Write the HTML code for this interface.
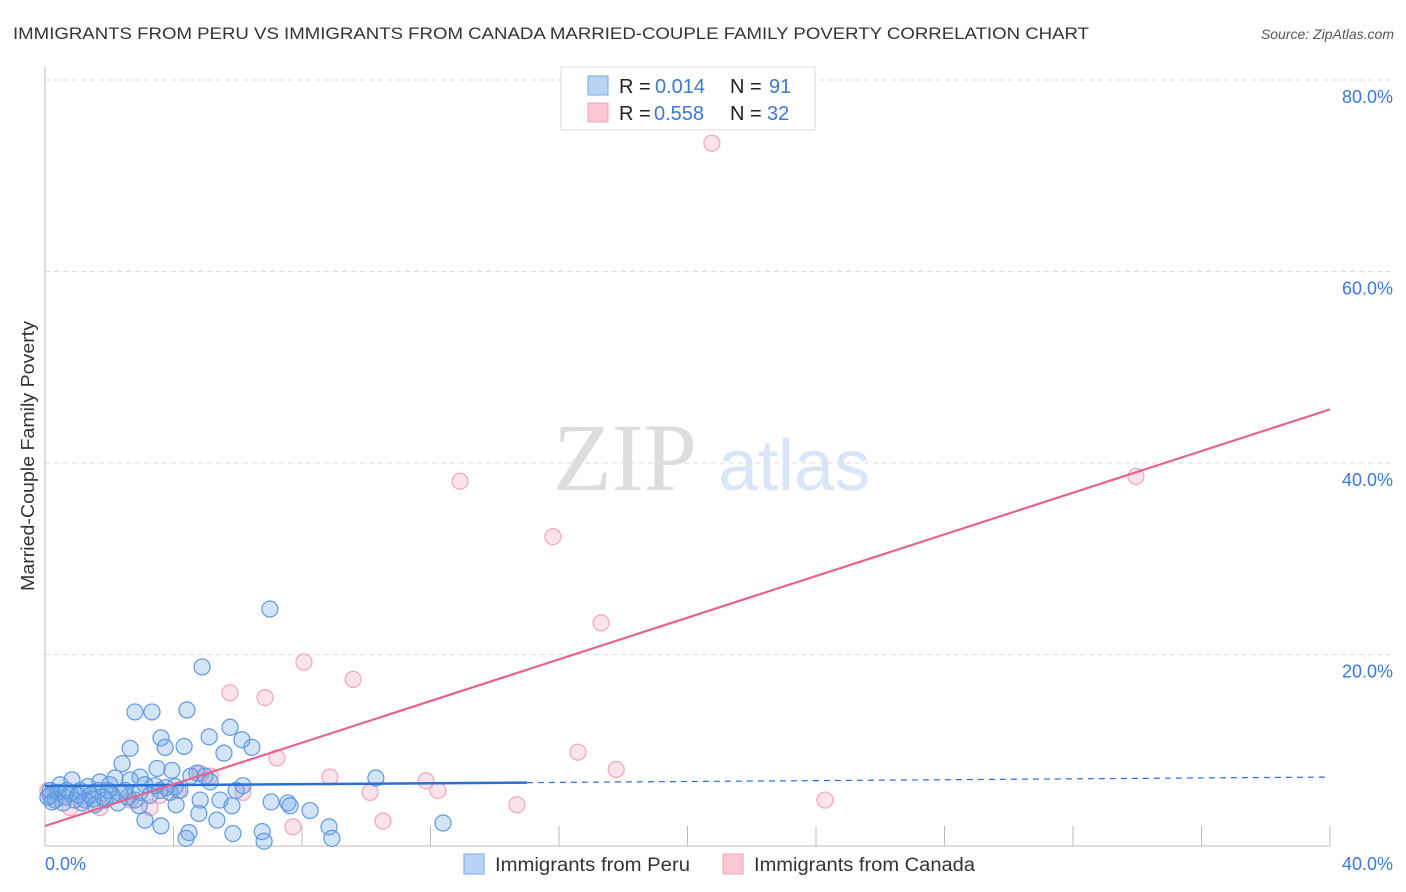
<!DOCTYPE html>
<html><head><meta charset="utf-8"><style>
body{margin:0;background:#fff;font-family:"Liberation Sans",sans-serif;}
svg{display:block}
</style></head><body>
<svg id="chart" width="1406" height="892" xmlns="http://www.w3.org/2000/svg">
<text x="13" y="39" font-size="17" fill="#333" textLength="1076" lengthAdjust="spacingAndGlyphs">IMMIGRANTS FROM PERU VS IMMIGRANTS FROM CANADA MARRIED-COUPLE FAMILY POVERTY CORRELATION CHART</text>
<text x="1394" y="39" font-size="14" fill="#555" font-style="italic" text-anchor="end">Source: ZipAtlas.com</text>
<text transform="translate(34,456) rotate(-90)" font-size="18" fill="#333" text-anchor="middle" textLength="270" lengthAdjust="spacingAndGlyphs">Married-Couple Family Poverty</text>
<g><text x="553" y="490" font-family="Liberation Serif,serif" font-size="96" fill="#ddd">ZIP</text><text x="718" y="490" font-size="72" fill="#d8e6f7">atlas</text></g>
<g id="grid"></g><g id="marks"></g>
<g>
<rect x="561" y="67" width="254" height="63" fill="#fff" stroke="#ddd"/>
<rect x="588" y="76" width="20" height="19" fill="#b9d3f5" stroke="#7aa8e6"/>
<rect x="588" y="103" width="20" height="19" fill="#fcc8d6" stroke="#f0a0b8"/>
<text x="619" y="93" font-size="20" fill="#222">R = <tspan x="655" fill="#3b78d8">0.014</tspan><tspan x="730">N = </tspan><tspan x="769" fill="#3b78d8">91</tspan></text>
<text x="619" y="120" font-size="20" fill="#222">R = <tspan x="654" fill="#3b78d8">0.558</tspan><tspan x="730">N = </tspan><tspan x="767" fill="#3b78d8">32</tspan></text>
</g>
<g>
<rect x="464" y="854" width="20" height="20" fill="#b9d3f5" stroke="#7aa8e6"/>
<text x="495" y="871" font-size="19" fill="#333" textLength="195" lengthAdjust="spacingAndGlyphs">Immigrants from Peru</text>
<rect x="723" y="854" width="20" height="20" fill="#fcc8d6" stroke="#f0a0b8"/>
<text x="754" y="871" font-size="19" fill="#333" textLength="221" lengthAdjust="spacingAndGlyphs">Immigrants from Canada</text>
</g>
</svg>
<script>
const yTicks=[20,40,60,80];
const yTickLabels=["20.0%","40.0%","60.0%","80.0%"];
const xTickLabels=["0.0%","40.0%"];
const peruX=[7.0,4.89,2.8,3.33,4.42,3.61,3.74,4.33,5.11,5.76,6.44,6.13,5.57,2.65,2.4,3.49,3.95,4.73,4.54,4.05,6.16,10.3,2.18,2.96,1.71,0.84,0.47,0.16,0.31,0.62,1.09,1.4,2.02,2.49,3.11,3.58,1.25,1.56,1.87,2.27,2.8,3.27,3.89,4.2,4.83,5.45,5.82,7.04,7.56,7.63,8.25,5.35,4.79,4.08,2.93,3.11,3.61,4.48,4.39,5.85,6.76,6.82,8.84,8.93,12.39,0.16,0.4,0.78,0.93,1.34,1.65,0.56,0.09,2.09,2.58,2.96,3.42,3.77,4.98,5.14,2.33,2.65,0.68,1.03,1.81,0.22,1.15,1.49,1.96,5.95];
const peruY=[24.75,18.7,14.0,14.0,14.2,11.3,10.3,10.4,11.4,12.4,10.3,11.1,9.7,10.2,8.6,8.1,7.9,7.6,7.3,6.2,6.3,7.1,7.1,7.2,6.7,6.9,6.4,5.3,4.8,5.1,5.8,5.3,6.4,5.8,6.4,5.8,4.8,4.3,4.8,4.5,4.8,5.3,5.6,5.8,4.8,4.8,4.2,4.6,4.5,4.2,3.7,2.7,3.4,4.3,4.2,2.7,2.1,1.4,0.8,1.3,1.5,0.5,2.0,0.8,2.4,5.8,5.6,5.5,4.8,6.2,5.8,4.5,5.1,5.3,5.1,5.6,6.3,6.1,7.3,6.7,5.5,6.9,5.8,5.3,5.1,4.6,4.5,4.9,5.8,5.8];
const canX=[20.76,12.92,15.81,17.31,33.96,8.06,9.59,5.76,6.85,7.22,16.59,17.78,8.87,11.86,12.23,10.12,14.69,24.28,10.52,7.72,5.14,4.83,4.14,3.27,1.71,0.78,0.31,0.09,2.65,3.58,6.16,1.25];
const canY=[73.4,38.1,32.3,23.3,38.6,19.2,17.4,16.0,15.5,9.2,9.8,8.0,7.2,6.8,5.8,5.6,4.3,4.8,2.6,2.0,7.3,7.6,5.8,4.0,4.0,4.0,4.8,5.8,4.8,5.3,5.6,4.8];
const peruTrend=[6.27,7.2];
const canTrend=[2.09,45.6];
const NS="http://www.w3.org/2000/svg";
const X0=45,X1=1330,Y0=846,PXPER=191.5/20;
const sx=v=>X0+(v/40)*(X1-X0);
const sy=v=>Y0-v*PXPER;
function mk(tag,attrs,parent){const e=document.createElementNS(NS,tag);for(const k in attrs)e.setAttribute(k,attrs[k]);parent.appendChild(e);return e;}
const grid=document.getElementById('grid'),marks=document.getElementById('marks');
yTicks.forEach((t,i)=>{
  const l=mk('line',{x1:X0,x2:1394,y1:sy(t),y2:sy(t),stroke:'#ddd','stroke-dasharray':'5,4'},grid);
  
  
  const tx=mk('text',{x:1393,y:sy(t)+23,'font-size':18,fill:'#3b78d8','text-anchor':'end'},grid);
  tx.textContent=yTickLabels[i];
  
  
});
const ax=mk('line',{x1:X0,x2:X0,y1:67,y2:Y0,stroke:'#bbb'},grid);


const bx=mk('line',{x1:X0,x2:X1,y1:Y0,y2:Y0,stroke:'#bbb'},grid);


for(let v=4;v<=40;v+=4){
  const t=mk('line',{x1:sx(v),x2:sx(v),y1:826,y2:Y0,stroke:'#bbb'},grid);
  
  
}
const xl0=mk('text',{x:45,y:870,'font-size':18,fill:'#3b78d8'},grid);xl0.textContent=xTickLabels[0];


const xl1=mk('text',{x:1393,y:870,'font-size':18,fill:'#3b78d8','text-anchor':'end'},grid);xl1.textContent=xTickLabels[1];


canX.forEach((x,i)=>{
  const c=mk('circle',{cx:sx(x),cy:sy(canY[i]),r:8,fill:'rgba(245,160,185,0.3)',stroke:'#f0a5bc','stroke-width':1.2},marks);
  
  
});
peruX.forEach((x,i)=>{
  const c=mk('circle',{cx:sx(x),cy:sy(peruY[i]),r:8,fill:'rgba(110,165,230,0.3)',stroke:'#5e98e2','stroke-width':1.2},marks);
  
  
});
const pm=peruTrend[0]+(peruTrend[1]-peruTrend[0])*(15/40);
const p1=mk('line',{x1:sx(0),y1:sy(peruTrend[0]),x2:sx(15),y2:sy(pm),stroke:'#2a6fd6','stroke-width':2.5},marks);


const p2=mk('line',{x1:sx(15),y1:sy(pm),x2:sx(40),y2:sy(peruTrend[1]),stroke:'#2a6fd6','stroke-width':1.2,'stroke-dasharray':'6,5'},marks);


const c1=mk('line',{x1:sx(0),y1:sy(canTrend[0]),x2:sx(40),y2:sy(canTrend[1]),stroke:'#e8628e','stroke-width':2.2},marks);


</script>
</body></html>
